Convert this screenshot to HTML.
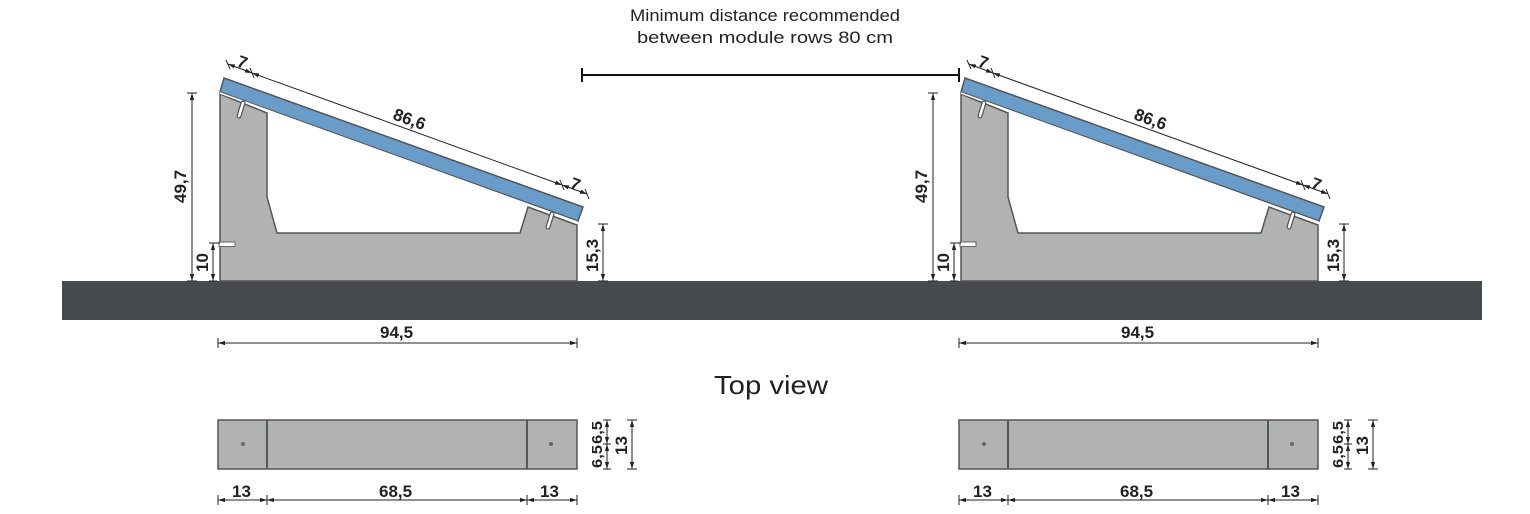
<!DOCTYPE html>
<html><head><meta charset="utf-8"><style>
html,body{margin:0;padding:0;background:#fff;}
svg{display:block;}
text{font-family:"Liberation Sans",sans-serif;fill:#222;}
.d{stroke:#222;stroke-width:1;fill:none;}
.b{font-weight:bold;font-size:17px;}
</style></head><body>
<svg width="1530" height="514" viewBox="0 0 1530 514" xmlns="http://www.w3.org/2000/svg">
<defs>
<marker id="a" viewBox="0 0 10 10" refX="10" refY="5" markerWidth="7" markerHeight="7" orient="auto-start-reverse"><path d="M0,2 L10,5 L0,8z" fill="#222"/></marker>
<g id="unit">
  <path d="M220,94 L267,113 L267,197 L277,233 L520,233 L528,207 L577,225 L577,281 L220,281 Z" fill="#b1b3b3" stroke="#555" stroke-width="1.5"/>
  <rect x="219" y="242" width="16" height="4.5" fill="#fff" stroke="#666" stroke-width="1"/>
  <path d="M224,78 L583,207 L578,221 L220,92 Z" fill="#6a9cca" stroke="#555" stroke-width="1.5"/>
  <path d="M220,93 L577,222" stroke="#fff" stroke-width="1.5"/>
  <path d="M243,103 L239,116" stroke="#555" stroke-width="5" stroke-linecap="round"/>
  <path d="M243,103 L239,116" stroke="#fff" stroke-width="2.5" stroke-linecap="round"/>
  <path d="M552,214 L548,227" stroke="#555" stroke-width="5" stroke-linecap="round"/>
  <path d="M552,214 L548,227" stroke="#fff" stroke-width="2.5" stroke-linecap="round"/>
  <line class="d" x1="228" y1="64" x2="252" y2="73" marker-start="url(#a)" marker-end="url(#a)"/>
  <line class="d" x1="252" y1="73" x2="562" y2="185" marker-start="url(#a)" marker-end="url(#a)"/>
  <line class="d" x1="562" y1="185" x2="587" y2="194" marker-start="url(#a)" marker-end="url(#a)"/>
  <line class="d" x1="226" y1="60" x2="230" y2="69"/><line class="d" x1="250" y1="68" x2="254" y2="78"/>
  <line class="d" x1="560" y1="180" x2="564" y2="190"/><line class="d" x1="585" y1="189" x2="589" y2="199"/>
  <text class="b" transform="translate(236,66) rotate(19.8)">7</text>
  <text class="b" transform="translate(392,119) rotate(19.8)">86,6</text>
  <text class="b" transform="translate(569,188) rotate(19.8)">7</text>
  <line class="d" x1="192" y1="93" x2="192" y2="281" marker-start="url(#a)" marker-end="url(#a)"/>
  <line class="d" x1="187" y1="93" x2="197" y2="93"/><line class="d" x1="187" y1="281" x2="197" y2="281"/>
  <text class="b" transform="translate(186,203) rotate(-90)">49,7</text>
  <line class="d" x1="213" y1="243" x2="213" y2="281" marker-start="url(#a)" marker-end="url(#a)"/>
  <line class="d" x1="209" y1="243" x2="220" y2="243"/><line class="d" x1="209" y1="281" x2="217" y2="281"/>
  <text class="b" transform="translate(208,272) rotate(-90)">10</text>
  <line class="d" x1="603" y1="224" x2="603" y2="281" marker-start="url(#a)" marker-end="url(#a)"/>
  <line class="d" x1="598" y1="224" x2="608" y2="224"/><line class="d" x1="598" y1="281" x2="608" y2="281"/>
  <text class="b" transform="translate(598,272) rotate(-90)">15,3</text>
  <line class="d" x1="218" y1="343" x2="577" y2="343" marker-start="url(#a)" marker-end="url(#a)"/>
  <line class="d" x1="218" y1="338" x2="218" y2="348"/><line class="d" x1="577" y1="338" x2="577" y2="348"/>
  <text class="b" x="380" y="338">94,5</text>
  <rect x="218" y="420" width="359" height="49" fill="#b1b3b3" stroke="#555" stroke-width="1.5"/>
  <line x1="267" y1="420" x2="267" y2="469" stroke="#555" stroke-width="2"/>
  <line x1="527" y1="420" x2="527" y2="469" stroke="#555" stroke-width="2"/>
  <circle cx="243" cy="444" r="2" fill="#666"/><circle cx="551" cy="444" r="2" fill="#666"/>
  <line class="d" x1="607" y1="420" x2="607" y2="444" marker-start="url(#a)" marker-end="url(#a)"/>
  <line class="d" x1="607" y1="444" x2="607" y2="469" marker-start="url(#a)" marker-end="url(#a)"/>
  <line class="d" x1="603" y1="420" x2="611" y2="420"/><line class="d" x1="603" y1="444" x2="611" y2="444"/><line class="d" x1="603" y1="469" x2="611" y2="469"/>
  <text class="b" style="font-size:15px" transform="translate(602,444) rotate(-90)" textLength="23" lengthAdjust="spacingAndGlyphs">6,5</text>
  <text class="b" style="font-size:15px" transform="translate(602,468) rotate(-90)" textLength="23" lengthAdjust="spacingAndGlyphs">6,5</text>
  <line class="d" x1="632" y1="420" x2="632" y2="469" marker-start="url(#a)" marker-end="url(#a)"/>
  <line class="d" x1="627" y1="420" x2="637" y2="420"/><line class="d" x1="627" y1="469" x2="637" y2="469"/>
  <text class="b" transform="translate(627,455) rotate(-90)">13</text>
  <line class="d" x1="218" y1="500" x2="267" y2="500" marker-start="url(#a)" marker-end="url(#a)"/>
  <line class="d" x1="267" y1="500" x2="527" y2="500" marker-start="url(#a)" marker-end="url(#a)"/>
  <line class="d" x1="527" y1="500" x2="577" y2="500" marker-start="url(#a)" marker-end="url(#a)"/>
  <line class="d" x1="218" y1="495" x2="218" y2="505"/><line class="d" x1="267" y1="495" x2="267" y2="505"/>
  <line class="d" x1="527" y1="495" x2="527" y2="505"/><line class="d" x1="577" y1="495" x2="577" y2="505"/>
  <text class="b" x="232" y="497">13</text>
  <text class="b" x="379" y="497">68,5</text>
  <text class="b" x="540" y="497">13</text>
</g>
</defs>
<rect x="62" y="281" width="1420" height="39" fill="#484b4e"/>
<use href="#unit"/>
<use href="#unit" transform="translate(741,0)"/>
<text x="765" y="21" text-anchor="middle" style="font-size:17px" textLength="270" lengthAdjust="spacingAndGlyphs">Minimum distance recommended</text>
<text x="765" y="43" text-anchor="middle" style="font-size:17px" textLength="256" lengthAdjust="spacingAndGlyphs">between module rows 80 cm</text>
<line x1="582" y1="75" x2="959" y2="75" stroke="#111" stroke-width="2"/>
<line x1="582" y1="68" x2="582" y2="82" stroke="#111" stroke-width="2"/>
<line x1="959" y1="68" x2="959" y2="82" stroke="#111" stroke-width="2"/>
<text x="771" y="394" text-anchor="middle" style="font-size:26px" textLength="114" lengthAdjust="spacingAndGlyphs">Top view</text>
</svg>
</body></html>
